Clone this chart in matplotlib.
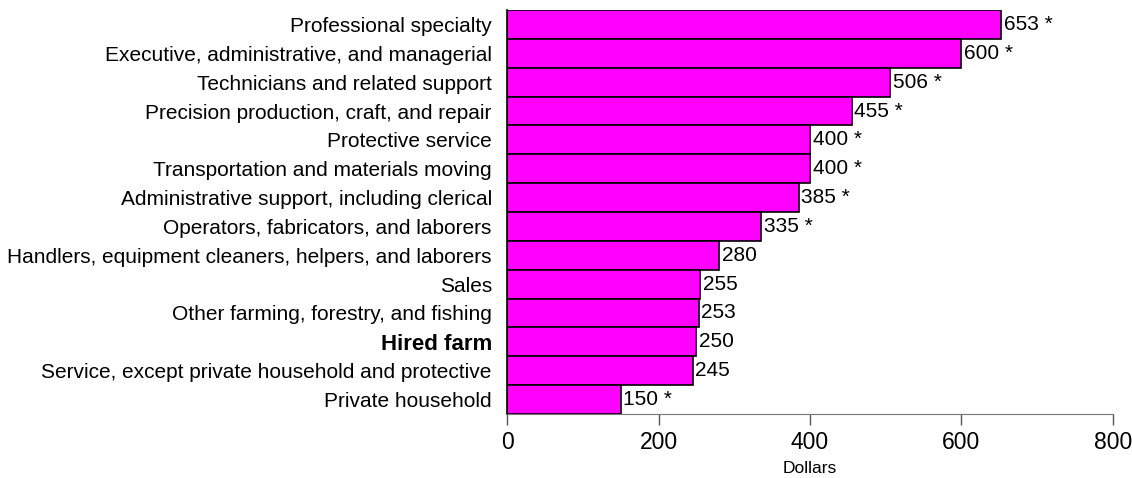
import matplotlib
matplotlib.use("Agg")
import matplotlib.pyplot as plt

categories = [
    "Professional specialty",
    "Executive, administrative, and managerial",
    "Technicians and related support",
    "Precision production, craft, and repair",
    "Protective service",
    "Transportation and materials moving",
    "Administrative support, including clerical",
    "Operators, fabricators, and laborers",
    "Handlers, equipment cleaners, helpers, and laborers",
    "Sales",
    "Other farming, forestry, and fishing",
    "Hired farm",
    "Service, except private household and protective",
    "Private household",
]
values = [653, 600, 506, 455, 400, 400, 385, 335, 280, 255, 253, 250, 245, 150]
significant = [True, True, True, True, True, True, True, True, False, False, False, False, False, True]
xticks = [0, 200, 400, 600, 800]

plt.rcParams['font.family'] = ['Liberation Sans', 'DejaVu Sans']

fig = plt.figure(figsize=(11.32, 4.78), dpi=100)
ax = fig.add_axes([0.448, 0.134, 0.535, 0.845])

n = len(categories)
ypos = list(range(n))
ax.barh(ypos, values, height=1.0, color='#FF00FF', edgecolor='black', linewidth=1.2)
ax.set_ylim(n - 0.5, -0.5)
ax.set_xlim(0, 800)
ax.set_xticks(xticks)
ax.set_xticklabels([str(t) for t in xticks], fontsize=16.5)
ax.set_yticks(ypos)
ax.set_yticklabels(categories, fontsize=15)
for lbl, cat in zip(ax.get_yticklabels(), categories):
    if cat == "Hired farm":
        lbl.set_fontweight('bold')
        lbl.set_fontsize(16)
ax.tick_params(axis='y', length=0, pad=11)
ax.tick_params(axis='x', length=8, width=1, color='#555555', pad=4)
ax.set_xlabel("Dollars", fontsize=12.5, labelpad=5)

for spine in ['top', 'right']:
    ax.spines[spine].set_visible(False)
ax.spines['bottom'].set_color('#777777')
ax.spines['left'].set_color('black')
ax.spines['left'].set_linewidth(1.2)

for y, v, s in zip(ypos, values, significant):
    label = f"{v} *" if s else f"{v}"
    ax.annotate(label, xy=(v, y), xytext=(2, 0), textcoords='offset points',
                va='center', ha='left', fontsize=15)

fig.savefig("out.png", dpi=100)
